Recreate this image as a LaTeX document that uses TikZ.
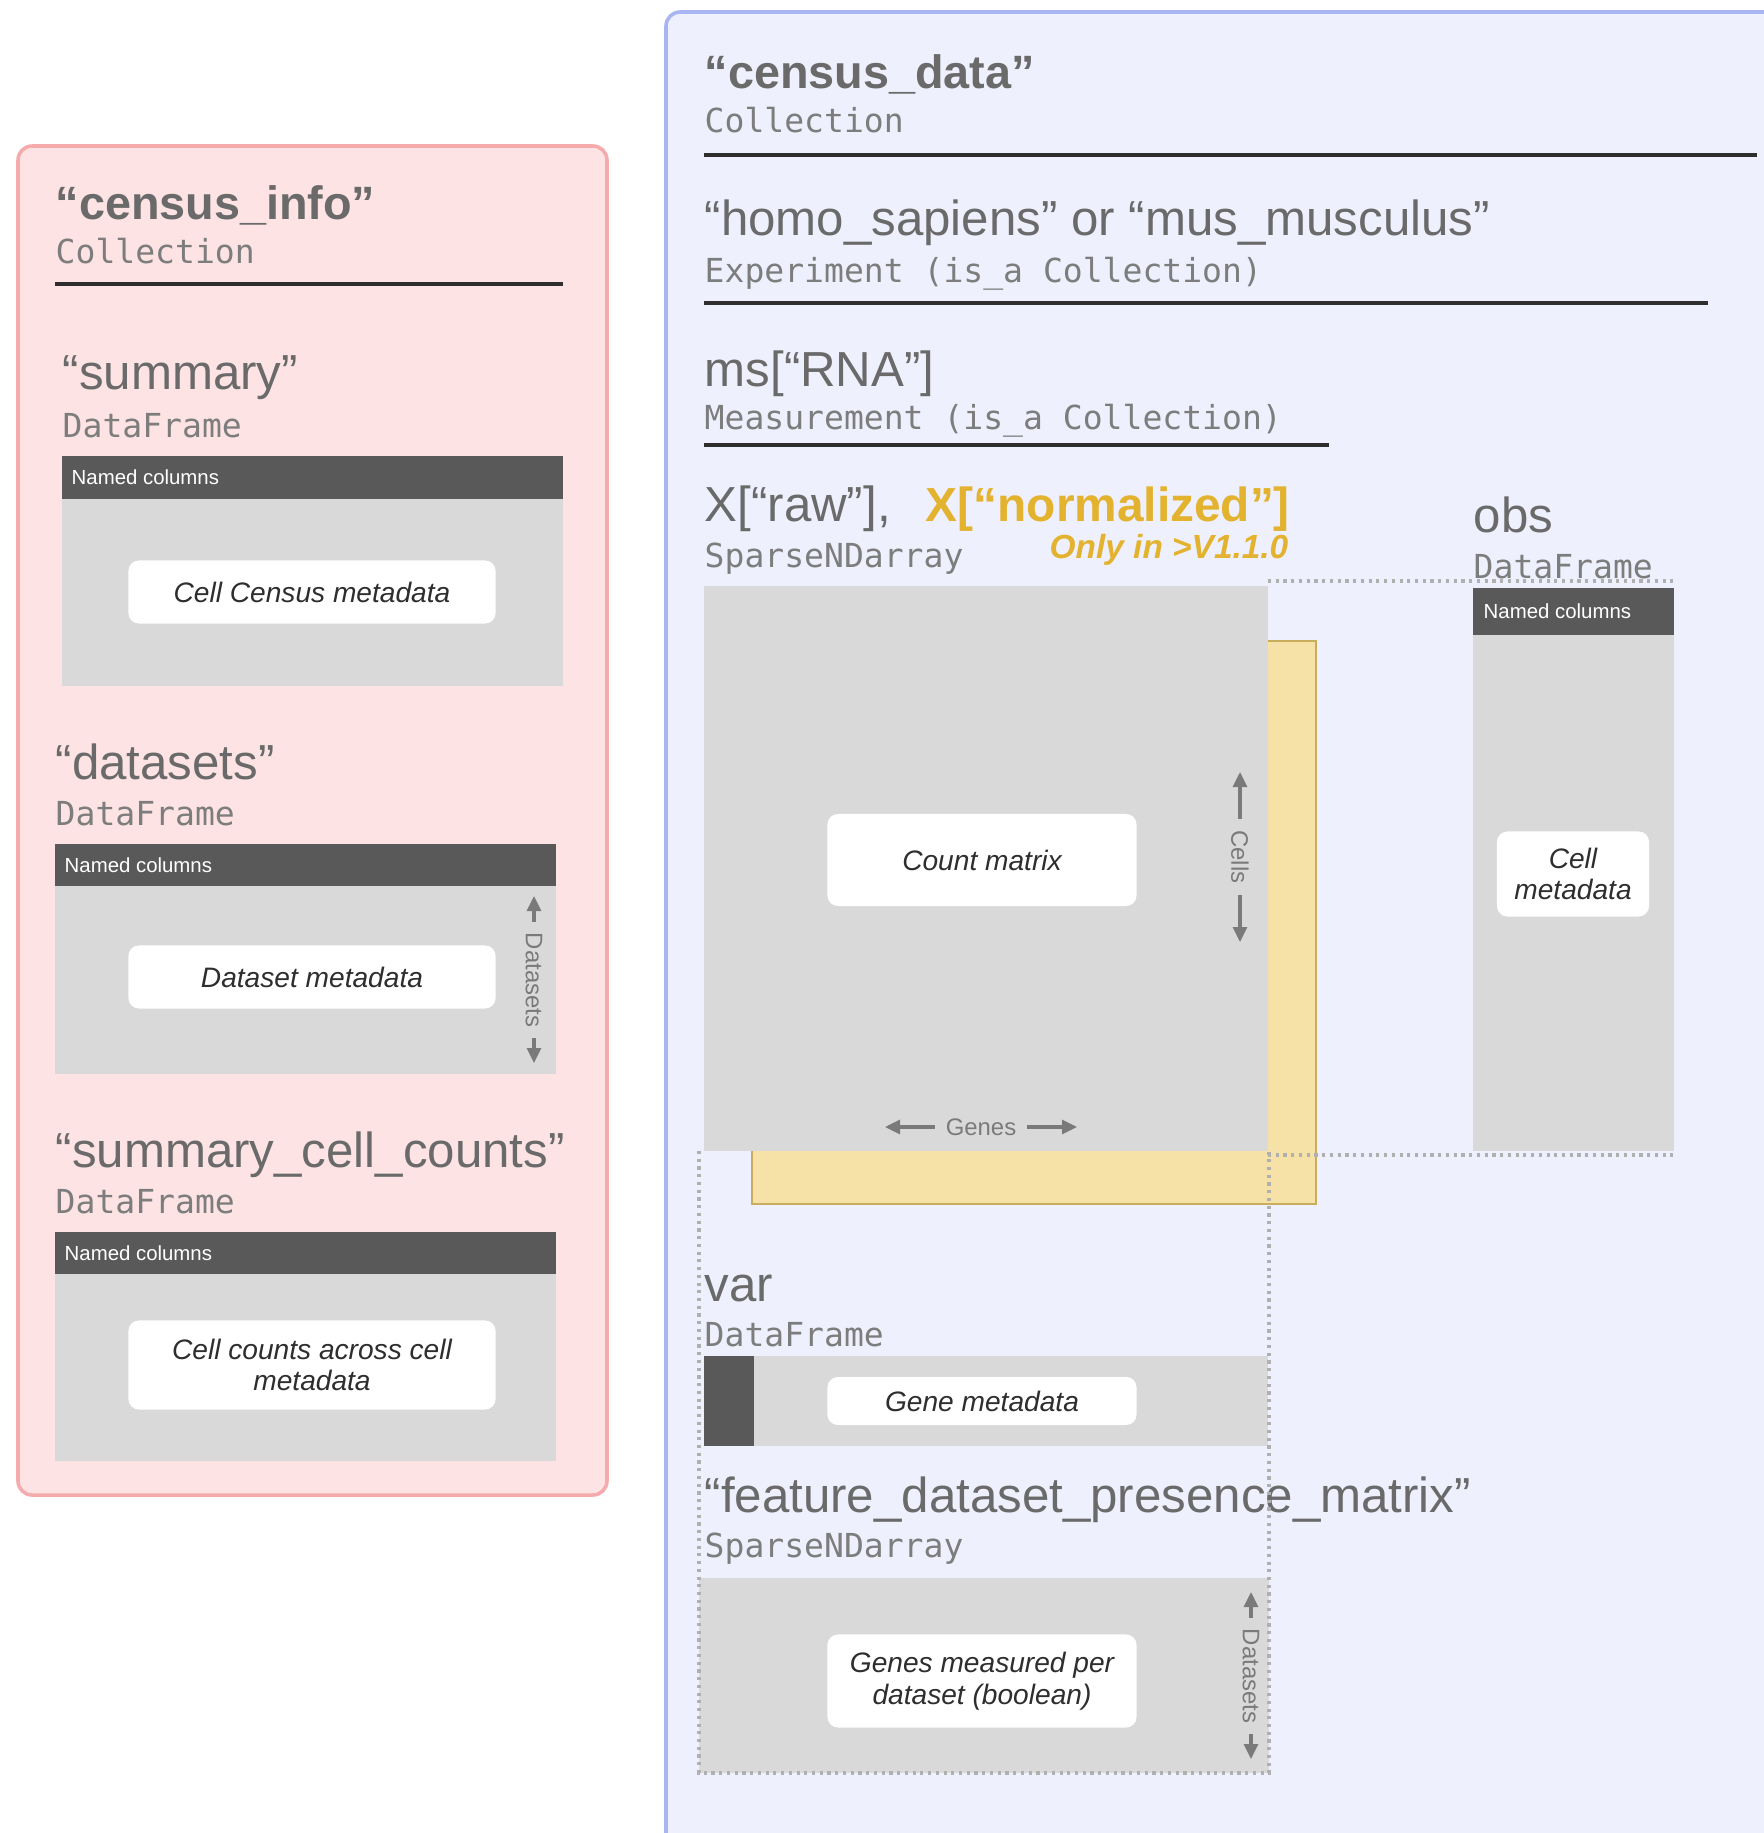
\documentclass[tikz,border=0pt]{standalone}
\usepackage{fontspec}
\setmainfont{Liberation Sans}
\setmonofont{DejaVu Sans Mono}
\usetikzlibrary{arrows.meta, positioning}
\definecolor{pinkfill}{HTML}{FDE3E3}
\definecolor{pinkedge}{HTML}{F5ABAB}
\definecolor{bluefill}{HTML}{EEF0FD}
\definecolor{blueedge}{HTML}{A9B4F2}
\definecolor{ink}{HTML}{2E2E2E}
\definecolor{headgray}{HTML}{6A6A6A}
\definecolor{typegray}{HTML}{7D7D7D}
\definecolor{darkbar}{HTML}{595959}
\definecolor{lightbody}{HTML}{D9D9D9}
\definecolor{gold}{HTML}{E3B22E}
\definecolor{goldfill}{HTML}{F6E2A6}
\definecolor{goldedge}{HTML}{C9AD5E}
\definecolor{dimgray}{HTML}{7A7A7A}
\definecolor{dotgray}{HTML}{B0B0B0}

\begin{document}
\begin{tikzpicture}[
  x=0.01cm, y=-0.01cm,
  objname/.style={font=\fontsize{14}{16}\selectfont, text=headgray,
    anchor=base west, inner sep=0pt},
  boldname/.style={objname, font=\fontsize{13.3}{16}\selectfont\bfseries},
  typename/.style={font=\fontsize{9.4}{11}\selectfont\ttfamily, text=typegray,
    anchor=base west, inner sep=0pt},
  colhead/.style={font=\fontsize{5.8}{7}\selectfont, text=white,
    anchor=west, inner sep=0pt},
  infobox/.style 2 args={
    fill=white, rounded corners=3pt, minimum width=#1, minimum height=#2,
    font=\fontsize{8}{9}\selectfont\itshape, text=ink, align=center, inner sep=2pt
  },
  dimlabel/.style={font=\fontsize{6.8}{8}\selectfont, text=dimgray, inner sep=3pt},
  dimarrow/.style={-{Triangle[length=1.5mm, width=1.4mm]}, line width=0.9pt, dimgray},
  sepline/.style={line width=1pt, ink},
  dotline/.style={dotgray, line width=1.1pt, dash pattern=on 0.9pt off 1.3pt},
]

% Background
\useasboundingbox (0,0) rectangle (1764,1833);
\fill[white] (0,0) rectangle (1764,1833);
\clip (0,0) rectangle (1764,1833);

% Panels
\draw[pinkedge, fill=pinkfill, line width=1pt, rounded corners=4pt]
  (18,146) rectangle (607,1495);
\draw[blueedge, fill=bluefill, line width=1pt, rounded corners=4pt]
  (666,12) rectangle (1800,1890);

% =============================================
% census_info (left)
% =============================================
\node[boldname] (info) at (55,219) {“census\_info”};
\node[typename] (infotype) at (55,263) {Collection};
\draw[sepline] (55,284) -- (563,284);

% summary
\node[objname] (summary) at (62,389) {“summary”};
\node[typename] (summarytype) at (62,437) {DataFrame};
\fill[lightbody] (62,499) rectangle (563,686);
\fill[darkbar] (62,456) rectangle (563,499);
\node[colhead] (summarycols) at (71,477) {Named columns};
\node[infobox={3.67cm}{0.63cm}] (summarymeta) at (312,592)
  {Cell Census metadata};

% datasets
\node[objname] (datasets) at (55,779) {“datasets”};
\node[typename] (datasetstype) at (55,825) {DataFrame};
\fill[lightbody] (55,886) rectangle (556,1074);
\fill[darkbar] (55,844) rectangle (556,886);
\node[colhead] (datasetscols) at (64,865) {Named columns};
\node[infobox={3.67cm}{0.63cm}] (datasetsmeta) at (312,977)
  {Dataset metadata};
\node[dimlabel, rotate=-90] (datasetsdim) at (534,980) {Datasets};
\coordinate (datasetstop) at (534,896);
\coordinate (datasetsbot) at (534,1063);
\draw[dimarrow] (datasetsdim) -- (datasetstop);
\draw[dimarrow] (datasetsdim) -- (datasetsbot);

% summary_cell_counts
\node[objname] (cellcounts) at (55,1167) {“summary\_cell\_counts”};
\node[typename] (cellcountstype) at (55,1213) {DataFrame};
\fill[lightbody] (55,1274) rectangle (556,1461);
\fill[darkbar] (55,1232) rectangle (556,1274);
\node[colhead] (cellcountscols) at (64,1253) {Named columns};
\node[infobox={3.67cm}{0.89cm}] (cellcountsmeta) at (312,1365)
  {Cell counts across cell\\metadata};

% =============================================
% census_data (right)
% =============================================
\node[boldname] (data) at (704,88) {“census\_data”};
\node[typename] (datatype) at (704,132) {Collection};
\draw[sepline] (704,155) -- (1757,155);

\node[objname] (exp) at (704,235) {“homo\_sapiens” or “mus\_musculus”};
\node[typename] (exptype) at (704,282) {Experiment (is\_a Collection)};
\draw[sepline] (704,303) -- (1708,303);

\node[objname] (ms) at (704,386) {ms[“RNA”]};
\node[typename] (mstype) at (704,429) {Measurement (is\_a Collection)};
\draw[sepline] (704,445) -- (1329,445);

\node[objname] (X) at (704,521)
  {X[“raw”],\hspace{10pt}\textcolor{gold}{\fontsize{13.6}{16}\selectfont\bfseries X[“normalized”]}};
\node[typename] (Xtype) at (704,567) {SparseNDarray};
\node[font=\fontsize{9.5}{11}\selectfont\bfseries\itshape, text=gold,
  anchor=base east, inner sep=0pt] (Xnote) at (1289,558) {Only in >V1.1.0};

\node[objname] (obs) at (1473,532) {obs};
\node[typename] (obstype) at (1473,578) {DataFrame};

% Normalized layer behind the counts
\draw[goldedge, fill=goldfill, line width=0.7pt] (752,641) rectangle (1316,1204);

% obs alignment frame
\draw[dotline] (1268,581) -- (1674,581);
\draw[dotline] (1268,1155) -- (1674,1155);

% Count matrix
\fill[lightbody] (704,586) rectangle (1268,1151);
\node[infobox={3.09cm}{0.92cm}] (count) at (982,860) {Count matrix};
\node[dimlabel, rotate=-90] (cellsdim) at (1240,857) {Cells};
\coordinate (cellstop) at (1240,772);
\coordinate (cellsbot) at (1240,942);
\draw[dimarrow] (cellsdim) -- (cellstop);
\draw[dimarrow] (cellsdim) -- (cellsbot);
\node[dimlabel] (genesdim) at (981,1127) {Genes};
\coordinate (genesleft) at (885,1127);
\coordinate (genesright) at (1077,1127);
\draw[dimarrow] (genesdim) -- (genesleft);
\draw[dimarrow] (genesdim) -- (genesright);

% obs
\fill[lightbody] (1473,635) rectangle (1674,1151);
\fill[darkbar] (1473,588) rectangle (1674,635);
\node[colhead] (obscols) at (1483,611) {Named columns};
\node[infobox={1.52cm}{0.85cm}] (cellmeta) at (1573,874) {Cell\\metadata};

% var
\node[objname] (var) at (704,1301) {var};
\node[typename] (vartype) at (704,1346) {DataFrame};
\fill[lightbody] (704,1356) rectangle (1268,1446);
\fill[darkbar] (704,1356) rectangle (754,1446);
\node[infobox={3.09cm}{0.48cm}] (genemeta) at (982,1401) {Gene metadata};

% feature_dataset_presence_matrix
\node[objname] (presence) at (704,1512) {“feature\_dataset\_presence\_matrix”};
\node[typename] (presencetype) at (704,1557) {SparseNDarray};
\fill[lightbody] (699,1578) rectangle (1269,1773);
\node[infobox={3.09cm}{0.93cm}] (presencemeta) at (982,1681)
  {Genes measured per\\dataset (boolean)};
\node[dimlabel, rotate=-90] (presencedim) at (1251,1676) {Datasets};
\coordinate (presencetop) at (1251,1592);
\coordinate (presencebot) at (1251,1759);
\draw[dimarrow] (presencedim) -- (presencetop);
\draw[dimarrow] (presencedim) -- (presencebot);

% var alignment frame
\draw[dotline] (699,1151) -- (699,1773) -- (1269,1773) -- (1269,1151);

\end{tikzpicture}
\end{document}
